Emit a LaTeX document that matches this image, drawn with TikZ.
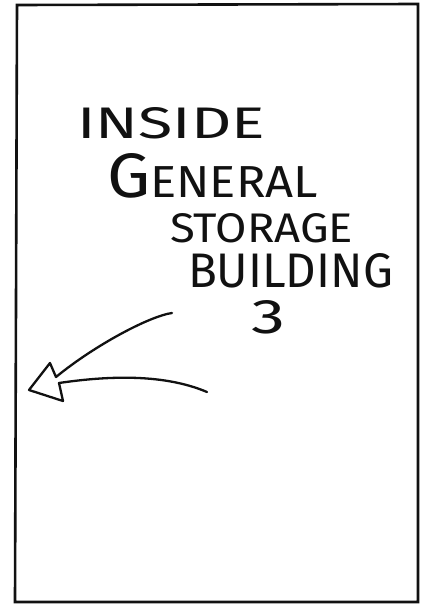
\documentclass[tikz,border=0pt]{standalone}
\usepackage{fontspec}
\usepackage{graphicx}
\setmainfont{Fira Sans}
\definecolor{pencil}{HTML}{111111}
\tikzset{
  hword/.style={anchor=north west, inner sep=0pt, outer sep=0pt, text=pencil},
  hline/.style={draw=pencil, line width=2.3pt, line cap=round, line join=round},
  hframe/.style={hline, line width=2.6pt, line cap=butt, line join=miter},
}
\newcommand{\hfit}[3]{\resizebox{#1pt}{#2pt}{#3}}

\begin{document}
\begin{tikzpicture}[x=1pt, y=-1pt]
  \useasboundingbox (0,0) rectangle (430,608);
  \draw[hframe] (17,5) -- (418,4) -- (418,602) -- (15,602) -- cycle;
  \node[hword] (inside) at (77,107) {\hfit{188}{31}{INSIDE}};
  \node[hword] (general) at (107,153) {\hfit{211}{44}{{\fontsize{14}{14}\selectfont G}ENERAL}};
  \node[hword] (storage) at (170,213) {\hfit{183}{29}{STORAGE}};
  \node[hword] (building) at (188,253) {\hfit{205}{34}{BUILDING}};
  \node[hword] (num) at (251,300) {\hfit{34}{33}{3}};
  % hollow arrow pointing at the left wall
  \coordinate (tail1) at (172,313);
  \coordinate (tail2) at (207,392);
  \coordinate (tip) at (29,390);
  \draw[hline] (tail1) .. controls (150,316) and (95,345) .. (56,377)
    -- (50,363) -- (tip) -- (63,401) -- (59,383)
    .. controls (100,377) and (160,372) .. (tail2);
\end{tikzpicture}
\end{document}
